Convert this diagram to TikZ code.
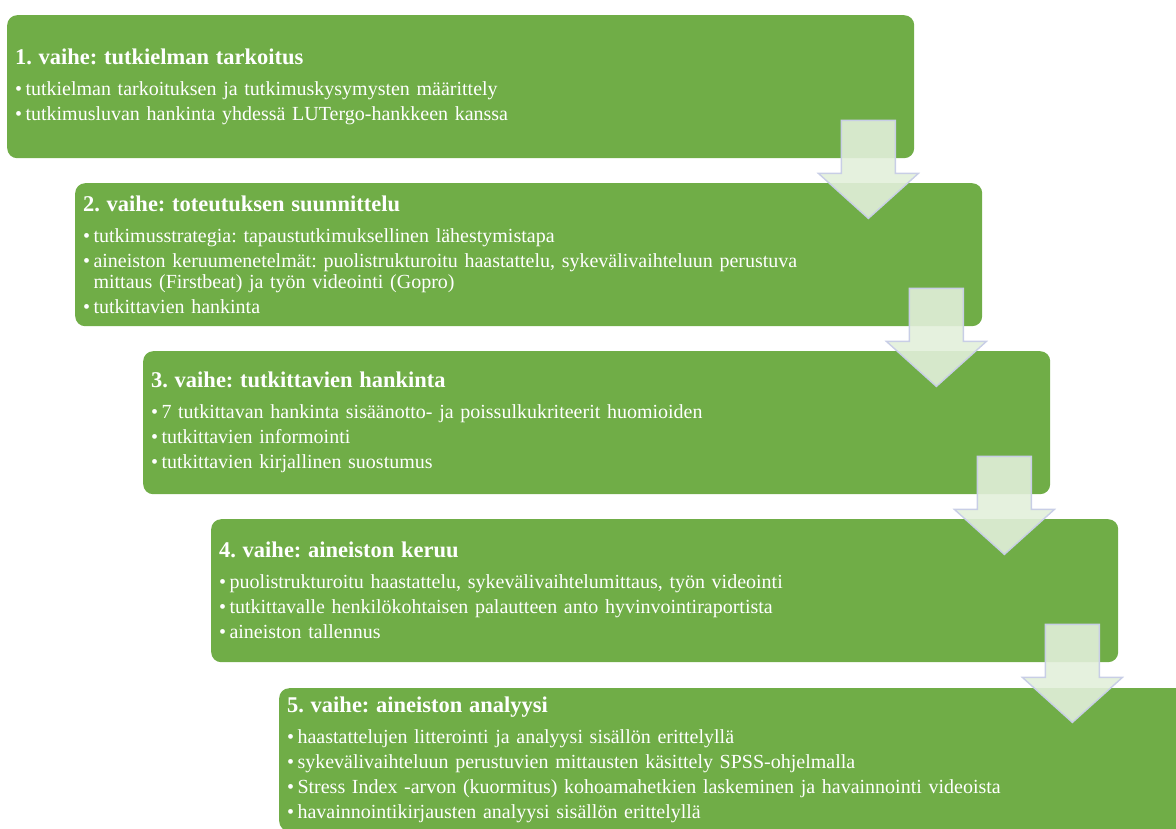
\documentclass[tikz,border=0pt]{standalone}
\usepackage{fontspec}
\setmainfont{Liberation Serif}
\usetikzlibrary{positioning}
\definecolor{vaihevihrea}{HTML}{70AD47}
\definecolor{nuolivihrea}{RGB}{226,239,218}
\definecolor{nuolireuna}{RGB}{200,206,230}
\newcommand{\vaihefontti}{\fontsize{20}{21}\selectfont\frenchspacing}
\newcommand{\otsikko}[1]{{\fontsize{22.5}{21}\selectfont\bfseries #1}}
\newcommand{\kohta}{\textbullet\,}
\newcommand{\jatko}{\phantom{\textbullet\,}}
% block arrow hanging below the right end of a step box
\newcommand{\nuoli}[1]{%
  \draw[nuoli,shift={(#1.south east)}]
    (-73,-38) -- (-19,-38) -- (-19,15) -- (4,15) -- (-46,60) -- (-96,15) -- (-73,15) -- cycle;}

\begin{document}
\begin{tikzpicture}[x=1pt,y=-1pt,
  vaihe/.style={fill=vaihevihrea, rounded corners=10pt, anchor=north west,
    minimum width=907pt, minimum height=143pt, text width=891pt,
    inner xsep=8pt, inner ysep=0pt, align=left, text=white,
    font=\vaihefontti},
  nuoli/.style={fill=nuolivihrea, fill opacity=0.9, draw=nuolireuna,
    line width=1.4pt, line join=miter}]
  \useasboundingbox (0,0) rectangle (1176,828);
  \clip (0,0) rectangle (1176,828);

  \node[vaihe] (v1) at (  7, 15) {\otsikko{1. vaihe: tutkielman tarkoitus}\\[10pt]
    \kohta tutkielman tarkoituksen ja tutkimuskysymysten määrittely\\[4pt]
    \kohta tutkimusluvan hankinta yhdessä LUTergo-hankkeen kanssa};
  \node[vaihe] (v2) at ( 75,183) {\otsikko{2. vaihe: toteutuksen suunnittelu}\\[10pt]
    \kohta tutkimusstrategia: tapaustutkimuksellinen lähestymistapa\\[4pt]
    \kohta aineiston keruumenetelmät: puolistrukturoitu haastattelu, sykevälivaihteluun perustuva\\
    \jatko mittaus (Firstbeat) ja työn videointi (Gopro)\\[4pt]
    \kohta tutkittavien hankinta};
  \node[vaihe] (v3) at (143,351) {\otsikko{3. vaihe: tutkittavien hankinta}\\[10pt]
    \kohta 7 tutkittavan hankinta sisäänotto- ja poissulkukriteerit huomioiden\\[4pt]
    \kohta tutkittavien informointi\\[4pt]
    \kohta tutkittavien kirjallinen suostumus};
  \node[vaihe] (v4) at (211,519) {\otsikko{4. vaihe: aineiston keruu}\\[10pt]
    \kohta puolistrukturoitu haastattelu, sykevälivaihtelumittaus, työn videointi\\[4pt]
    \kohta tutkittavalle henkilökohtaisen palautteen anto hyvinvointiraportista\\[4pt]
    \kohta aineiston tallennus};
  \node[vaihe] (v5) at (279,688) {\otsikko{5. vaihe: aineiston analyysi}\\[10pt]
    \kohta haastattelujen litterointi ja analyysi sisällön erittelyllä\\[4pt]
    \kohta sykevälivaihteluun perustuvien mittausten käsittely SPSS-ohjelmalla\\[4pt]
    \kohta Stress Index -arvon (kuormitus) kohoamahetkien laskeminen ja havainnointi videoista\\[4pt]
    \kohta havainnointikirjausten analyysi sisällön erittelyllä};

  % arrows between the steps
  \nuoli{v1}
  \nuoli{v2}
  \nuoli{v3}
  \nuoli{v4}
\end{tikzpicture}
\end{document}
